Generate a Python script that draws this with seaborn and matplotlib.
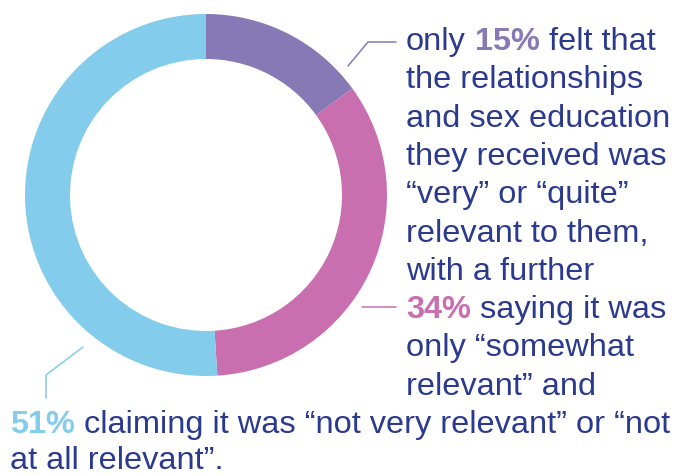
import matplotlib
matplotlib.use("Agg")
import matplotlib.pyplot as plt
import seaborn as sns

# Share of young people rating the relevance of their RSE
categories = ["Very / quite relevant", "Somewhat relevant", "Not very / not at all relevant"]
shares = [15, 34, 51]
colors = ["#8679B6", "#C96EAE", "#84CCEB"]
text_color = "#2B3A8E"

sns.set_theme(style="white")
plt.rcParams["font.family"] = ["Liberation Sans", "DejaVu Sans"]

W, H = 683, 475
fig = plt.figure(figsize=(W / 100, H / 100), dpi=100)
ax = fig.add_axes([0, 0, 1, 1])

# Donut chart, clockwise from twelve o'clock
cx, cy, r_out, ring = 206, H - 195, 181, 45
ax.pie(shares, colors=colors, startangle=90, counterclock=False,
       radius=r_out, center=(cx, cy),
       wedgeprops=dict(width=ring, linewidth=0), frame=True)
ax.set_xlim(0, W)
ax.set_ylim(0, H)
ax.set_aspect("equal")
ax.axis("off")

# Leader lines from each segment to its part of the caption
ax.plot([348, 368, 396], [H - 66, H - 42, H - 42], color=colors[0], lw=1.1)
ax.plot([362, 396], [H - 307, H - 307], color=colors[1], lw=1.1)
ax.plot([83, 46, 46], [H - 347, H - 375, H - 398], color=colors[2], lw=1.1)

fs = 23.4
renderer = fig.canvas.get_renderer()


def width_of(s, bold=False):
    t = ax.text(0, 0, s, fontsize=fs, fontweight="bold" if bold else "normal")
    w = t.get_window_extent(renderer).width
    t.remove()
    return w


space_w = width_of("n n") - width_of("nn")


def draw_line(x, baseline, parts):
    """parts: list of (text, color, bold) pieces separated by single spaces."""
    for s, col, bold in parts:
        ax.text(x, H - baseline, s, fontsize=fs, color=col,
                fontweight="bold" if bold else "normal", va="baseline", ha="left")
        x += width_of(s, bold) + space_w


x0 = 406
step = 38.3
b0 = 50
lines = [
    [("only", text_color, False), ("15%", colors[0], True), ("felt that", text_color, False)],
    [("the relationships", text_color, False)],
    [("and sex education", text_color, False)],
    [("they received was", text_color, False)],
    [("\u201cvery\u201d or \u201cquite\u201d", text_color, False)],
    [("relevant to them,", text_color, False)],
    [("with a further", text_color, False)],
    [("34%", colors[1], True), ("saying it was", text_color, False)],
    [("only \u201csomewhat", text_color, False)],
    [("relevant\u201d and", text_color, False)],
]
for i, parts in enumerate(lines):
    draw_line(x0, b0 + i * step, parts)

draw_line(10, 433, [("51%", colors[2], True),
                    ("claiming it was \u201cnot very relevant\u201d or \u201cnot", text_color, False)])
draw_line(10, 469, [("at all relevant\u201d.", text_color, False)])

fig.savefig("out.png", dpi=100)
